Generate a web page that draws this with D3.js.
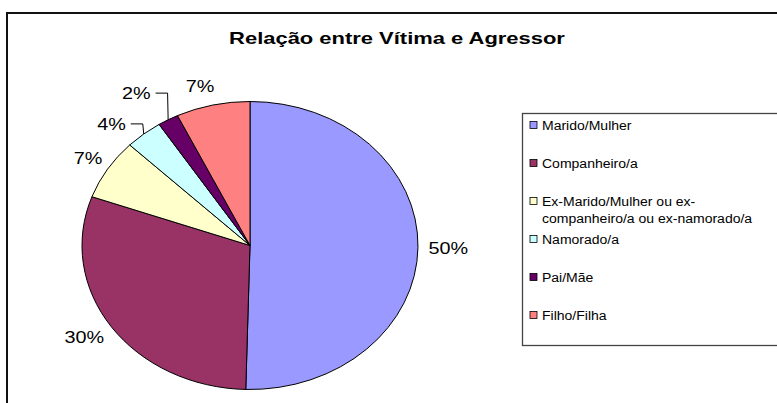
<!DOCTYPE html>
<html>
<head>
<meta charset="utf-8">
<script src="https://cdn.jsdelivr.net/npm/d3@7"></script>
<style>
  body { margin: 0; background: #fff; }
  text { font-family: Arial, "Liberation Sans", sans-serif; fill: #000; }
</style>
</head>
<body>
<script>
var WIDTH = 777, HEIGHT = 403;

// data (percent)
var categories = ['Marido/Mulher', 'Companheiro/a', 'Ex-Marido/Mulher ou ex-companheiro/a ou ex-namorado/a', 'Namorado/a', 'Pai/Mãe', 'Filho/Filha'];
var values = [50.4, 30.1, 6.8, 3.6, 2.0, 7.1];
var colors = ['#9999FF', '#993366', '#FFFFCC', '#CCFFFF', '#660066', '#FF8080'];
var legendLines = [['Marido/Mulher'], ['Companheiro/a'], ['Ex-Marido/Mulher ou ex-', 'companheiro/a ou ex-namorado/a'], ['Namorado/a'], ['Pai/Mãe'], ['Filho/Filha']];

// label layout nudges (px), Excel moved the small ones
var labelNudge = [[0, 0], [-2, -4], [6, 3], [-13, 10], [-17, -4], [-6, 6]];

var CX = 250, CY = 245.5, RX = 168, RY = 144;
var LABEL_FACTOR = 1.18;

var svg = d3.select('body').append('svg').attr('width', WIDTH).attr('height', HEIGHT);

// stretch text horizontally (the original picture was widened)
function stretch(sel, k) {
    sel.each(function () {
        var w = this.getComputedTextLength();
        d3.select(this).attr('textLength', w * k).attr('lengthAdjust', 'spacingAndGlyphs');
    });
}

// chart frame
svg.append('rect')
    .attr('x', 7).attr('y', 13).attr('width', 820).attr('height', 450)
    .attr('fill', 'none').attr('stroke', '#111').attr('stroke-width', 2);

svg.append('text')
    .attr('x', 397).attr('y', 44)
    .attr('text-anchor', 'middle')
    .attr('font-size', 16.5).attr('font-weight', 'bold')
    .text('Relação entre Vítima e Agressor')
    .call(stretch, 1.33);

var pie = d3.pie().sort(null).value(function (d) { return d; });
var arcs = pie(values);
var arc = d3.arc().innerRadius(0).outerRadius(RY);

svg.append('g')
    .attr('transform', 'translate(' + CX + ',' + CY + ') scale(' + (RX / RY) + ',1)')
    .selectAll('path')
    .data(arcs)
    .enter().append('path')
    .attr('d', arc)
    .attr('fill', function (d, i) { return colors[i]; })
    .attr('stroke', '#000')
    .attr('stroke-width', 1)
    .attr('vector-effect', 'non-scaling-stroke');

function ellipsePoint(a, f) {
    return [CX + RX * f * Math.sin(a), CY - RY * f * Math.cos(a)];
}

var fmt = d3.format('.0%');
var total = d3.sum(values);

arcs.forEach(function (d, i) {
    var mid = (d.startAngle + d.endAngle) / 2;
    var p = ellipsePoint(mid, LABEL_FACTOR);
    var x = p[0] + labelNudge[i][0], y = p[1] + labelNudge[i][1];
    var t = svg.append('text')
        .attr('x', x).attr('y', y + 6)
        .attr('text-anchor', 'middle')
        .attr('font-size', 16.5)
        .text(fmt(d.value / total))
        .call(stretch, 1.2);
    if (d.value / total < 0.05) {
        var w = t.node().getComputedTextLength() * 1.2;
        var edge = ellipsePoint(mid, 1);
        var x0 = x + w / 2 + 2;
        svg.append('polyline')
            .attr('points', [[x0, y], [x0 + 12, y], edge].map(function (q) { return q.join(','); }).join(' '))
            .attr('fill', 'none').attr('stroke', '#000').attr('stroke-width', 1);
    }
});

// legend
var legend = svg.append('g');
legend.append('rect')
    .attr('x', 522.5).attr('y', 113.5).attr('width', 300).attr('height', 232)
    .attr('fill', '#fff').attr('stroke', '#444').attr('stroke-width', 1.3);

var rowY = d3.scalePoint().domain(d3.range(categories.length)).range([125, 315]);

legendLines.forEach(function (lines, i) {
    var y = rowY(i);
    legend.append('rect')
        .attr('x', 530).attr('y', y - 3.5).attr('width', 7).attr('height', 7)
        .attr('fill', colors[i]).attr('stroke', '#000').attr('stroke-width', 0.8);
    lines.forEach(function (s, j) {
        legend.append('text')
            .attr('x', 542).attr('y', y + 4.5 + j * 17)
            .attr('font-size', 12.5)
            .text(s)
            .call(stretch, 1.12);
    });
});
</script>
</body>
</html>
